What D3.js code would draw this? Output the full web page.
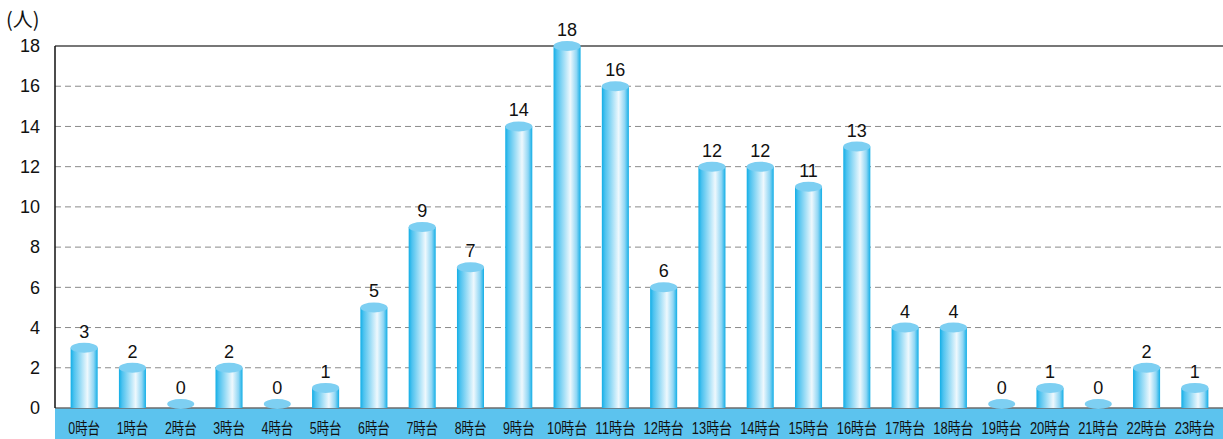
<!DOCTYPE html>
<html><head><meta charset="utf-8">
<script src="https://cdn.jsdelivr.net/npm/d3@7"></script>
<style>
html,body{margin:0;padding:0;background:#fff;}
svg{display:block;font-family:"Liberation Sans",Arial,"Noto Sans CJK JP",sans-serif;}
</style></head><body>
<svg id="c" width="1223" height="439"></svg>
<script>
const categories = ["0時台","1時台","2時台","3時台","4時台","5時台","6時台","7時台","8時台","9時台","10時台","11時台","12時台","13時台","14時台","15時台","16時台","17時台","18時台","19時台","20時台","21時台","22時台","23時台"];
const values = [3,2,0,2,0,1,5,9,7,14,18,16,6,12,12,11,13,4,4,0,1,0,2,1];
const yTicks = [0,2,4,6,8,10,12,14,16,18];
const unitLabel = "(人)";

const svg = d3.select("#c");
const W = 1223, H = 439;
const plotLeft = 55, plotRight = 1223, plotTop = 46, plotBottom = 408;

const x = d3.scaleBand().domain(categories).range([60, 1219]).paddingInner(0.44).paddingOuter(0.22);
const y = d3.scaleLinear().domain([0, 18]).range([plotBottom, plotTop]);

const defs = svg.append("defs");
const g = defs.append("linearGradient").attr("id","cyl").attr("x1","0").attr("x2","1").attr("y1","0").attr("y2","0");
g.append("stop").attr("offset","0").attr("stop-color","#12aee6");
g.append("stop").attr("offset","0.12").attr("stop-color","#4cc2ef");
g.append("stop").attr("offset","0.62").attr("stop-color","#eef8fd");
g.append("stop").attr("offset","0.85").attr("stop-color","#8fd6f4");
g.append("stop").attr("offset","1").attr("stop-color","#12aee6");

// gridlines
svg.append("g").selectAll("line").data(yTicks.filter(d => d > 0 && d < 18)).join("line")
  .attr("x1", plotLeft).attr("x2", plotRight)
  .attr("y1", d => y(d)).attr("y2", d => y(d))
  .attr("stroke", "#8a8a8a").attr("stroke-width", 1).attr("stroke-dasharray", "6,4");
// top line
svg.append("line").attr("x1", plotLeft).attr("x2", plotRight).attr("y1", y(18)).attr("y2", y(18))
  .attr("stroke", "#777").attr("stroke-width", 2);

// bottom band
svg.append("rect").attr("x", plotLeft).attr("y", plotBottom).attr("width", plotRight - plotLeft).attr("height", H - plotBottom)
  .attr("fill", "#5cc3ee");
svg.append("line").attr("x1", plotLeft).attr("x2", plotRight).attr("y1", plotBottom).attr("y2", plotBottom)
  .attr("stroke", "#6b6b6b").attr("stroke-width", 1.5);

// y axis
const yAxis = d3.axisLeft(y).tickValues(yTicks).tickSize(0).tickPadding(15);
const ya = svg.append("g").attr("transform", `translate(${plotLeft},0)`).call(yAxis);
ya.select(".domain").remove();
ya.selectAll("text").attr("font-size", 18).attr("fill", "#111").attr("font-family", '"Liberation Sans",Arial,sans-serif');
svg.append("line").attr("x1", plotLeft).attr("x2", plotLeft).attr("y1", y(18)).attr("y2", plotBottom)
  .attr("stroke", "#111").attr("stroke-width", 1.5);

svg.append("text").attr("x", 6).attr("y", 27).attr("font-size", 20).attr("fill", "#111")
  .attr("font-family", '"Noto Sans CJK JP","Liberation Sans",sans-serif').text(unitLabel);

// bars
const ry = 5;
const bw = x.bandwidth();
const bars = svg.append("g").selectAll("g").data(values.map((v, i) => ({c: categories[i], v}))).join("g");
bars.filter(d => d.v > 0).append("rect")
  .attr("x", d => x(d.c)).attr("y", d => y(d.v)).attr("width", bw).attr("height", d => plotBottom - y(d.v))
  .attr("fill", "url(#cyl)");
bars.append("ellipse")
  .attr("cx", d => x(d.c) + bw / 2).attr("cy", d => d.v > 0 ? y(d.v) : plotBottom - 4)
  .attr("rx", bw / 2).attr("ry", ry).attr("fill", "#7dcff2");
bars.append("text")
  .attr("x", d => x(d.c) + bw / 2).attr("y", d => (d.v > 0 ? y(d.v) : plotBottom - 4) - ry - 5)
  .attr("text-anchor", "middle").attr("font-size", 18).attr("fill", "#111")
  .text(d => d.v);

// x axis labels (condensed CJK like the reference)
const xAxis = d3.axisBottom(x).tickSize(0).tickPadding(0);
const xa = svg.append("g").attr("transform", `translate(0,${plotBottom})`).call(xAxis);
xa.select(".domain").remove();
xa.selectAll("text").attr("dy", null).attr("y", 26).attr("font-size", 16).attr("fill", "#111")
  .attr("font-family", '"Liberation Sans","Noto Sans CJK JP",sans-serif')
  .attr("lengthAdjust", "spacingAndGlyphs")
  .attr("textLength", d => (d.length - 2) * 8.6 + 23);
</script>
</body></html>
